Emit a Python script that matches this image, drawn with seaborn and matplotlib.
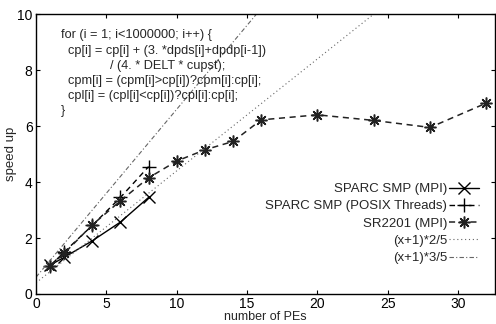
import matplotlib
matplotlib.use("Agg")
import matplotlib.pyplot as plt
import seaborn as sns
import pandas as pd
import numpy as np

sns.set_style("ticks")
plt.rcParams['font.family'] = ['Liberation Sans', 'DejaVu Sans']

pe_smp = [1, 2, 4, 6, 8]
smp_mpi = [1.03, 1.31, 1.9, 2.57, 3.45]
smp_posix = [1.0, 1.5, 2.45, 3.45, 4.55]
pe_sr = [1, 2, 4, 6, 8, 10, 12, 14, 16, 20, 24, 28, 32]
sr_mpi = [1.0, 1.45, 2.47, 3.33, 4.15, 4.75, 5.15, 5.45, 6.22, 6.4, 6.2, 5.95, 6.82]
fx = [0, 32]
f25 = [(v + 1) * 2 / 5 for v in fx]
f35 = [(v + 1) * 3 / 5 for v in fx]

labels = ["SPARC SMP (MPI)", "SPARC SMP (POSIX Threads)", "SR2201 (MPI)",
          "(x+1)*2/5", "(x+1)*3/5"]

code = ("for (i = 1; i<1000000; i++) {\n"
        "  cp[i] = cp[i] + (3. *dpds[i]+dpdp[i-1])\n"
        "              / (4. * DELT * cupst);\n"
        "  cpm[i] = (cpm[i]>cp[i])?cpm[i]:cp[i];\n"
        "  cpl[i] = (cpl[i]<cp[i])?cpl[i]:cp[i];\n"
        "}")

fig = plt.figure(figsize=(4.96, 3.24), dpi=100)
ax = fig.add_axes([0.0726, 0.0926, 0.925, 0.864])

sns.lineplot(x=pe_smp, y=smp_mpi, ax=ax, color="black", lw=1.0, marker="x",
             markersize=8, markeredgewidth=1.0, markeredgecolor="black",
             label=labels[0])
sns.lineplot(x=pe_smp, y=smp_posix, ax=ax, color="black", lw=1.0, marker="+",
             markersize=10, markeredgewidth=1.0, markeredgecolor="black",
             dashes=(4, 3), label=labels[1])
sns.lineplot(x=pe_sr, y=sr_mpi, ax=ax, color="#222222", lw=1.1, marker=(8, 2, 0),
             markersize=8.5, markeredgewidth=1.1, markeredgecolor="#222222",
             dashes=(4, 3), label=labels[2])
sns.lineplot(x=fx, y=f25, ax=ax, color="#666666", lw=0.8, dashes=(1, 2.5),
             label=labels[3])
sns.lineplot(x=fx, y=f35, ax=ax, color="#666666", lw=0.8, dashes=(4, 2, 1, 2),
             label=labels[4])

ax.set_xlim(0, 32.6)
ax.set_ylim(0, 10)
ax.set_xticks([0, 5, 10, 15, 20, 25, 30])
ax.set_yticks([0, 2, 4, 6, 8, 10])
ax.tick_params(direction="in", top=True, right=True, labelsize=10, length=3,
               colors="black", pad=2.5)
for s in ax.spines.values():
    s.set_color("black")
    s.set_linewidth(1.0)
ax.set_xlabel("number of PEs", fontsize=9)
ax.set_ylabel("speed up", fontsize=9.5)
ax.xaxis.set_label_coords(0.5, -0.062)
ax.yaxis.set_label_coords(-0.041, 0.5)

ax.text(1.75, 9.45, code, fontsize=9.2, va="top", ha="left", linespacing=1.34)

leg = ax.legend(loc="lower right", bbox_to_anchor=(1.0, 0.05), frameon=False,
                markerfirst=False, fontsize=9.5, handlelength=2.3,
                labelspacing=0.38, handletextpad=0.1, borderaxespad=0.8)

fig.savefig("out.png", dpi=100)
